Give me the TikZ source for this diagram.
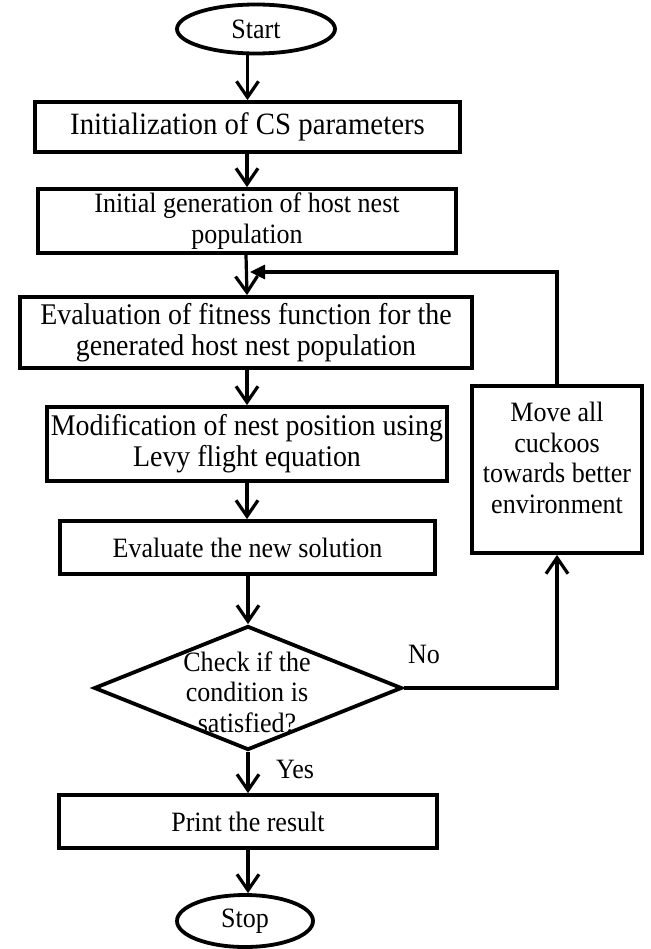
\documentclass[tikz,border=0pt]{standalone}
\usepackage{fontspec}
\setmainfont[FakeStretch=0.93]{Liberation Serif}
\usetikzlibrary{shapes.geometric,arrows.meta}
\begin{document}
\begin{tikzpicture}[x=1pt,y=-1pt,
  line width=3.2pt,
  box/.style={draw, rectangle, inner sep=0pt, align=center, line width=3.8pt},
  oval/.style={draw, ellipse, inner sep=0pt, line width=3.8pt},
  arr/.style={-{Straight Barb[length=16pt,width=22pt]}},
  fbarr/.style={-{Triangle[length=15pt,width=14pt]}},
  tsmall/.style={font=\fontsize{28}{30.5}\selectfont},
  tmid/.style={font=\fontsize{30}{31}\selectfont},
  tbig/.style={font=\fontsize{31}{32}\selectfont}
]
\useasboundingbox (0,0) rectangle (650,949);

% nodes
\node[oval, tsmall, minimum width=158pt, minimum height=49pt] (start) at (256,29) {Start};
\node[box, tbig, minimum width=425pt, minimum height=50pt] (b1) at (247.5,127) {Initialization of CS parameters};
\node[box, tsmall, minimum width=418pt, minimum height=64pt] (b2) at (247,221) {Initial generation of host nest\\population};
\node[box, tmid, minimum width=452pt, minimum height=71pt] (b3) at (246,332.5) {Evaluation of fitness function for the\\generated host nest population};
\node[box, tmid, minimum width=400pt, minimum height=74pt] (b4) at (247,444) {Modification of nest position using\\Levy flight equation};
\node[box, tsmall, minimum width=375pt, minimum height=53pt] (b5) at (247.5,547.5) {Evaluate the new solution};
\node[draw, diamond, minimum width=308pt, minimum height=124pt, inner sep=0pt, line width=3.8pt] (dia) at (248,688) {};
\node[tsmall, align=center, inner sep=0pt] (diatext) at (247,692) {Check if the\\condition is\\satisfied?};
\node[box, tsmall, minimum width=378pt, minimum height=53pt] (print) at (248,821.5) {Print the result};
\node[oval, tsmall, minimum width=136pt, minimum height=52pt] (stop) at (245,921) {Stop};
\node[box, minimum width=170pt, minimum height=167pt] (move) at (557,469.5) {};
\node[tsmall, align=center, inner sep=0pt] (movetext) at (557,458) {Move all\\cuckoos\\towards better\\environment};
\node[tsmall, inner sep=0pt] (no) at (424,654) {No};
\node[tsmall, inner sep=0pt] (yes) at (295,769) {Yes};
\coordinate (fbend) at (250,272);

% connectors
\draw[arr] (start.south -| b1.north) -- (b1.north);
\draw[arr] (b1.south -| b2.north) -- (b2.north);
\draw[arr] (b2.south -| b3.north) -- (b3.north -| b2.south);
\draw[arr] (b3.south -| b4.north) -- (b4.north);
\draw[arr] (b4.south) -- (b5.north -| b4.south);
\draw[arr] (b5.south -| dia.north) -- (dia.north);
\draw[arr] (dia.south) -- (print.north);
\draw[arr] (print.south) -- (stop.north -| print.south);
\draw[arr] (dia.east) -| (move.south);
\draw[fbarr] (move.north) |- (fbend);
\end{tikzpicture}
\end{document}
